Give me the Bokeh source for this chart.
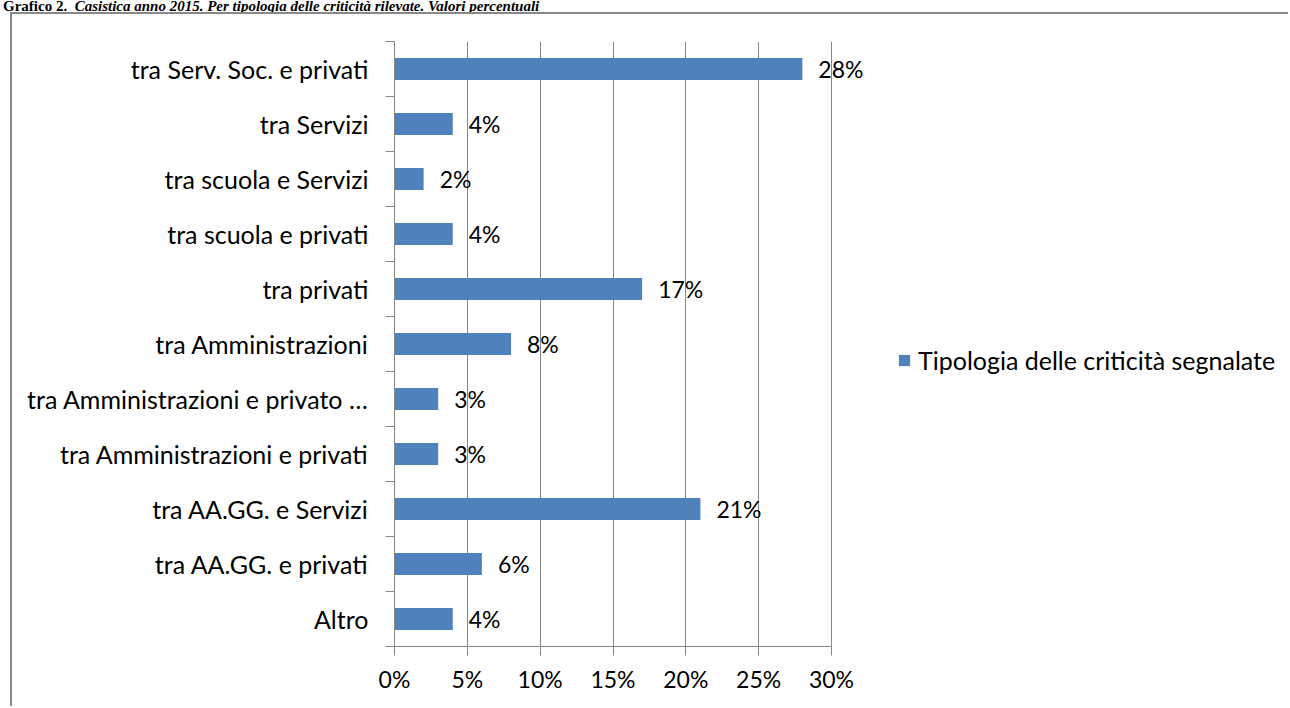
from bokeh.plotting import figure
from bokeh.layouts import column
from bokeh.models import (Range1d, FixedTicker, NumeralTickFormatter, ColumnDataSource,
                          Legend, LegendItem, LabelSet, Div)
from bokeh.core.properties import value
from bokeh.embed import file_html
from bokeh.resources import INLINE

# ---- data (top to bottom as in the chart) ----
categories = [
    "tra Serv. Soc. e privati",
    "tra Servizi",
    "tra scuola e Servizi",
    "tra scuola e privati",
    "tra privati",
    "tra Amministrazioni",
    "tra Amministrazioni e privato \u2026",
    "tra Amministrazioni e privati",
    "tra AA.GG. e Servizi",
    "tra AA.GG. e privati",
    "Altro",
]
values = [28, 4, 2, 4, 17, 8, 3, 3, 21, 6, 4]
x_ticks = [0, 5, 10, 15, 20, 25, 30]
series_name = "Tipologia delle criticit\u00e0 segnalate"
title_a = "Grafico 2."
title_b = "Casistica anno 2015. Per tipologia delle criticit\u00e0 rilevate. Valori percentuali"

FONT = "Lato"
FS_TXT = "25px"
FS_NUM = "23px"
GRAY = "#878787"
BAR = "#4F81BD"

n = len(categories)
ypos = [n - 1 - i for i in range(n)]
src = ColumnDataSource(dict(
    y=ypos,
    x=[v / 100 for v in values],
    lbl=[f"{v}%" for v in values],
))

W, H = 1278, 694
p = figure(width=W, height=H, output_backend="svg", toolbar_location=None,
           x_range=Range1d(0, 0.6151), y_range=Range1d(-0.5, n - 0.5),
           min_border_left=382, min_border_right=0, min_border_top=27, min_border_bottom=62,
           margin=0)
p.outline_line_color = None
p.background_fill_color = "white"
p.border_fill_color = "white"
p.styles = {"border-left": "2px solid #888888", "border-top": "2px solid #888888",
            "margin-left": "10px"}

r = p.hbar(y="y", left=0, right="x", height=0.4, source=src,
           fill_color=BAR, line_color=None)

# grid
p.ygrid.visible = False
p.xgrid.ticker = FixedTicker(ticks=[t / 100 for t in x_ticks])
p.xgrid.grid_line_color = GRAY
p.xgrid.grid_line_width = 1

# x axis
xa = p.xaxis[0]
xa.ticker = FixedTicker(ticks=[t / 100 for t in x_ticks])
xa.formatter = NumeralTickFormatter(format="0%")
xa.bounds = (0, x_ticks[-1] / 100)
xa.axis_line_color = GRAY
xa.major_tick_line_color = GRAY
xa.major_tick_out = 9
xa.major_tick_in = 0
xa.minor_tick_line_color = None
xa.major_label_text_font = FONT
xa.major_label_text_font_size = FS_NUM
xa.major_label_text_color = "black"
xa.major_label_standoff = 9

# y axis
ya = p.yaxis[0]
ya.ticker = FixedTicker(ticks=ypos, minor_ticks=[k - 0.5 for k in range(n + 1)])
ya.major_label_overrides = {y: c for y, c in zip(ypos, categories)}
ya.axis_line_color = GRAY
ya.major_tick_line_color = None
ya.major_tick_out = 0
ya.major_tick_in = 0
ya.minor_tick_line_color = GRAY
ya.minor_tick_out = 9
ya.minor_tick_in = 0
ya.major_label_text_font = FONT
ya.major_label_text_font_size = FS_TXT
ya.major_label_text_color = "black"
ya.major_label_standoff = 17

# value labels
labels = LabelSet(x="x", y="y", text="lbl", source=src, x_offset=16,
                  text_baseline="middle", text_align="left",
                  text_font=value(FONT), text_font_size=value(FS_NUM), text_color="black")
p.add_layout(labels)

# legend
legend = Legend(items=[LegendItem(label=series_name, renderers=[r])],
                location=(503, 271), padding=0, margin=0,
                glyph_width=14, glyph_height=14, label_standoff=7,
                label_text_font=FONT, label_text_font_size=FS_TXT, label_text_color="black",
                border_line_color=None, background_fill_alpha=0)
p.add_layout(legend)

# document caption above the chart
title = Div(text=f"<b>{title_a}</b>&nbsp;&nbsp;<b><i>{title_b}</i></b>",
            width=1270, height=12, margin=(0, 0, 0, 3),
            styles={"font-family": "Liberation Serif", "font-size": "15px",
                    "line-height": "12px", "white-space": "nowrap", "color": "black"})

layout = column(title, p, spacing=0)
open("out.html", "w").write(file_html(layout, INLINE))
